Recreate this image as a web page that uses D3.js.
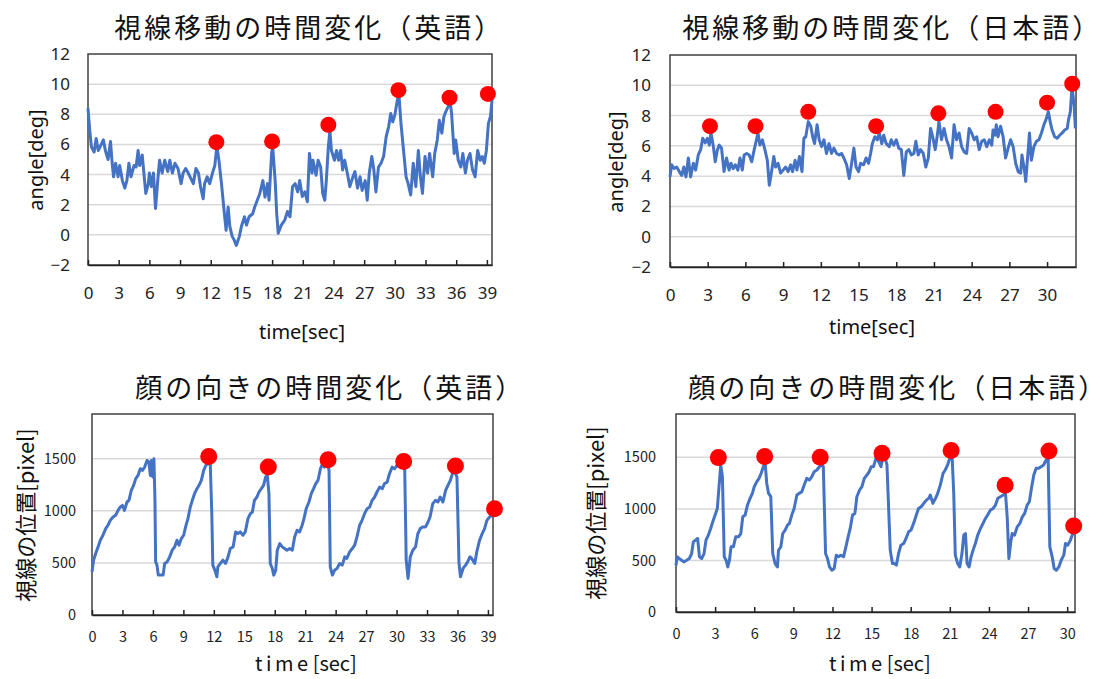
<!DOCTYPE html>
<html><head><meta charset="utf-8">
<script src="https://cdn.jsdelivr.net/npm/d3@7"></script>
<style>body{margin:0;background:#fff}</style>
</head><body>
<svg id="c" width="1097" height="679"></svg>
<script>
// ---------- DATA ----------
const titles = ["視線移動の時間変化（英語）","視線移動の時間変化（日本語）","顔の向きの時間変化（英語）","顔の向きの時間変化（日本語）"];
const angleTicks = [-2,0,2,4,6,8,10,12];
const pixelTicks = [0,500,1000,1500];
const timeTicks39 = [0,3,6,9,12,15,18,21,24,27,30,33,36,39];
const timeTicks30 = [0,3,6,9,12,15,18,21,24,27,30];

const enAngle = [[0,8.4],[0.16,7.0],[0.33,5.85],[0.6,5.5],[0.8,6.4],[1.0,5.6],[1.3,6.0],[1.5,6.3],[1.7,5.6],[1.96,5.0],[2.2,6.2],[2.35,4.85],[2.5,3.85],[2.7,4.75],[2.94,3.85],[3.1,4.6],[3.36,3.6],[3.6,3.1],[3.8,3.6],[4.0,4.75],[4.2,3.85],[4.5,4.6],[4.7,4.5],[4.9,5.6],[5.05,4.6],[5.3,5.3],[5.45,4.2],[5.65,2.75],[5.9,3.4],[6.0,4.1],[6.2,3.2],[6.4,4.1],[6.6,1.75],[6.85,3.85],[7.0,4.95],[7.25,4.1],[7.5,4.95],[7.8,4.2],[8.0,4.95],[8.25,4.1],[8.5,4.75],[8.8,4.4],[9.1,3.4],[9.3,4.1],[9.55,4.4],[9.8,4.1],[10.05,3.75],[10.3,3.4],[10.55,4.4],[10.8,4.1],[11.0,3.2],[11.26,2.4],[11.4,3.4],[11.65,3.85],[11.9,3.4],[12.17,4.1],[12.4,4.6],[12.6,5.9],[12.8,4.95],[13.05,3.4],[13.3,1.65],[13.5,0.3],[13.7,1.85],[13.87,0.55],[14.1,-0.1],[14.3,-0.35],[14.5,-0.7],[14.8,-0.1],[15.0,0.55],[15.3,1.2],[15.5,0.65],[15.75,1.2],[16.1,1.4],[16.3,1.85],[16.55,2.3],[16.8,2.75],[17.1,3.6],[17.3,2.5],[17.55,3.4],[17.7,2.3],[17.95,5.4],[18.05,5.9],[18.3,3.6],[18.45,1.4],[18.6,0.1],[18.9,0.65],[19.25,1.0],[19.5,1.55],[19.75,1.2],[20.0,3.2],[20.25,3.4],[20.5,2.85],[20.7,3.6],[20.95,2.55],[21.2,2.85],[21.45,2.2],[21.65,5.4],[21.9,4.1],[22.0,4.95],[22.3,3.95],[22.5,4.95],[22.75,4.5],[22.95,2.75],[23.15,2.3],[23.3,3.6],[23.5,5.85],[23.65,6.9],[23.8,5.6],[24.1,4.95],[24.3,5.6],[24.5,4.95],[24.7,5.6],[24.9,4.3],[25.1,4.95],[25.35,4.1],[25.6,3.2],[25.9,3.85],[26.1,4.2],[26.35,3.1],[26.6,3.85],[26.8,2.95],[27.1,3.6],[27.3,2.3],[27.5,4.1],[27.75,5.2],[27.95,4.3],[28.15,2.85],[28.4,4.5],[28.65,4.75],[28.9,5.2],[29.15,6.5],[29.4,7.2],[29.6,8.05],[29.8,7.5],[30.0,7.95],[30.25,8.95],[30.4,9.3],[30.6,7.4],[30.85,5.6],[31.1,3.85],[31.3,3.4],[31.55,2.65],[31.8,4.75],[32.05,3.2],[32.3,5.6],[32.5,3.85],[32.7,2.75],[32.95,5.2],[33.2,4.1],[33.4,5.4],[33.7,3.85],[33.9,5.4],[34.15,6.3],[34.35,7.6],[34.6,6.75],[34.8,7.85],[35.0,8.2],[35.2,8.5],[35.4,8.85],[35.55,8.05],[35.8,5.4],[35.95,6.3],[36.2,4.95],[36.45,4.5],[36.65,5.4],[36.9,4.1],[37.1,4.95],[37.35,5.4],[37.6,4.3],[37.85,3.85],[38.1,5.6],[38.35,4.95],[38.55,5.2],[38.75,4.75],[38.95,5.6],[39.15,7.4],[39.35,7.85],[39.5,8.95]];
const enAnglePeaks = [[12.55,6.15],[18.0,6.2],[23.5,7.3],[30.35,9.6],[35.35,9.1],[39.1,9.35]];

const jaAngle = [[0,3.95],[0.13,4.75],[0.32,4.5],[0.53,4.6],[0.74,4.3],[0.93,4.05],[1.1,4.6],[1.27,3.95],[1.46,5.2],[1.64,3.95],[1.86,4.85],[2.04,4.4],[2.25,5.4],[2.44,5.75],[2.6,6.5],[2.8,6.2],[2.97,6.5],[3.13,6.05],[3.26,6.85],[3.45,5.95],[3.6,4.95],[3.76,5.7],[3.92,6.05],[4.1,5.85],[4.3,4.3],[4.5,5.2],[4.7,4.4],[4.85,4.85],[5.03,4.5],[5.2,4.75],[5.4,4.4],[5.57,5.2],[5.75,4.4],[5.9,5.4],[6.1,5.5],[6.3,5.4],[6.5,4.95],[6.7,5.75],[6.85,6.3],[7.0,6.85],[7.15,6.05],[7.35,6.4],[7.55,5.75],[7.74,5.05],[7.9,3.4],[8.1,4.4],[8.26,5.3],[8.4,4.6],[8.6,4.85],[8.8,4.2],[9.0,4.4],[9.2,4.6],[9.4,4.3],[9.6,4.75],[9.75,4.3],[9.95,5.05],[10.1,4.4],[10.3,5.3],[10.5,4.3],[10.65,6.5],[10.8,6.6],[11.0,7.6],[11.2,7.3],[11.35,6.6],[11.5,6.15],[11.7,7.4],[11.87,6.4],[12.06,5.95],[12.25,6.4],[12.45,5.5],[12.65,6.15],[12.85,5.5],[13.04,5.85],[13.25,5.5],[13.46,5.4],[13.65,5.5],[13.83,5.2],[14.05,4.75],[14.26,3.85],[14.45,4.85],[14.63,5.85],[14.8,4.6],[15.0,4.3],[15.16,4.85],[15.4,4.75],[15.6,5.2],[15.8,4.85],[15.96,5.5],[16.1,6.15],[16.3,6.6],[16.5,6.4],[16.65,6.85],[16.85,6.15],[17.0,6.7],[17.2,6.15],[17.45,5.95],[17.6,6.4],[17.8,6.05],[18.0,6.4],[18.2,5.85],[18.4,5.75],[18.6,4.05],[18.8,5.6],[19.0,5.75],[19.2,5.4],[19.4,5.5],[19.56,6.3],[19.75,5.4],[19.93,5.75],[20.15,5.5],[20.35,4.6],[20.55,5.2],[20.73,7.15],[20.9,6.6],[21.1,5.75],[21.25,6.6],[21.4,7.6],[21.6,6.4],[21.8,7.15],[22.0,6.4],[22.2,5.95],[22.4,5.2],[22.6,7.4],[22.8,6.4],[23.0,6.85],[23.2,5.95],[23.4,5.6],[23.6,5.5],[23.8,7.15],[24.0,6.85],[24.2,6.4],[24.4,6.6],[24.6,5.75],[24.8,6.3],[25.0,6.4],[25.2,5.95],[25.4,6.4],[25.6,6.05],[25.7,7.05],[25.85,6.7],[25.96,7.4],[26.1,6.6],[26.3,7.3],[26.5,6.6],[26.7,5.2],[26.9,5.85],[27.1,6.4],[27.3,5.95],[27.5,4.85],[27.7,4.3],[27.9,4.2],[28.0,5.4],[28.2,4.4],[28.3,3.65],[28.5,5.75],[28.6,6.85],[28.75,5.05],[28.95,5.95],[29.15,6.3],[29.35,6.4],[29.55,6.85],[29.75,7.4],[29.9,7.7],[30.1,8.25],[30.27,7.5],[30.4,7.05],[30.6,6.6],[30.8,6.5],[31.0,6.7],[31.2,6.85],[31.4,7.05],[31.6,7.15],[31.7,7.7],[31.85,8.25],[31.98,9.9],[32.15,8.7],[32.25,7.15]];
const jaAnglePeaks = [[3.18,7.3],[6.8,7.3],[11.0,8.25],[16.4,7.3],[21.35,8.15],[25.9,8.25],[30.0,8.85],[32.0,10.1]];

const enFace = [[0,415],[0.16,527],[0.36,590],[0.6,654],[0.82,718],[1.08,766],[1.35,830],[1.58,862],[1.8,909],[2.07,941],[2.33,957],[2.56,1005],[2.8,1037],[3.0,1053],[3.2,1005],[3.45,1085],[3.64,1101],[3.87,1197],[4.1,1245],[4.3,1308],[4.53,1340],[4.76,1404],[4.96,1388],[5.19,1420],[5.42,1484],[5.6,1468],[5.75,1340],[5.85,1484],[6.0,1324],[6.1,1500],[6.2,1101],[6.27,510],[6.4,479],[6.53,383],[6.73,383],[7.0,383],[7.16,495],[7.4,510],[7.65,558],[7.9,622],[8.14,654],[8.37,718],[8.57,670],[8.8,734],[9.03,766],[9.22,846],[9.45,925],[9.68,1037],[9.88,1101],[10.1,1165],[10.34,1213],[10.54,1245],[10.77,1292],[11.0,1388],[11.2,1436],[11.4,1452],[11.65,1452],[11.8,973],[11.9,479],[12.1,431],[12.3,367],[12.4,463],[12.64,495],[12.9,527],[13.16,495],[13.4,558],[13.62,638],[13.9,654],[14.15,798],[14.38,782],[14.6,798],[14.87,766],[15.1,798],[15.36,925],[15.6,973],[15.8,989],[16.0,1101],[16.25,1133],[16.45,1181],[16.68,1213],[16.9,1245],[17.1,1324],[17.27,1340],[17.43,1165],[17.56,495],[17.76,447],[17.9,383],[18.1,431],[18.25,622],[18.5,686],[18.74,654],[18.97,638],[19.2,622],[19.47,638],[19.73,622],[19.96,750],[20.2,814],[20.45,798],[20.7,862],[20.88,925],[21.1,1021],[21.37,1085],[21.6,1165],[21.83,1213],[22.03,1260],[22.26,1292],[22.5,1404],[22.7,1452],[22.9,1420],[23.15,1468],[23.35,1388],[23.47,463],[23.68,383],[23.9,431],[24.13,447],[24.4,495],[24.65,479],[24.9,558],[25.1,543],[25.38,606],[25.64,638],[25.87,670],[26.1,750],[26.36,862],[26.6,909],[26.85,973],[27.1,1021],[27.35,1037],[27.6,1101],[27.84,1133],[28.07,1181],[28.33,1228],[28.6,1213],[28.8,1260],[29.07,1276],[29.3,1356],[29.57,1420],[29.8,1404],[30.04,1436],[30.24,1436],[30.47,1468],[30.8,1420],[30.95,527],[31.13,351],[31.35,558],[31.6,622],[31.87,654],[32.1,782],[32.33,830],[32.6,846],[32.86,846],[33.1,893],[33.3,941],[33.57,1069],[33.83,1101],[34.07,1085],[34.3,1133],[34.57,1085],[34.83,1197],[35.06,1245],[35.3,1292],[35.5,1356],[35.7,1388],[35.95,1324],[36.15,495],[36.3,367],[36.55,447],[36.8,479],[37.0,510],[37.23,558],[37.4,543],[37.7,495],[37.9,606],[38.18,718],[38.44,782],[38.67,830],[38.9,909],[39.16,941],[39.43,957]];
const enFacePeaks = [[11.5,1522],[17.37,1420],[23.25,1490],[30.7,1474],[35.8,1430],[39.65,1021]];

const jaFace = [[0,454],[0.1,535],[0.26,518],[0.43,502],[0.6,486],[0.82,502],[1.02,518],[1.2,567],[1.33,680],[1.5,697],[1.66,713],[1.8,535],[1.97,518],[2.15,567],[2.3,697],[2.48,745],[2.66,810],[2.82,875],[3.0,940],[3.17,1004],[3.3,1215],[3.43,1426],[3.56,1312],[3.7,535],[3.84,502],[3.97,437],[4.1,502],[4.22,632],[4.4,632],[4.58,729],[4.79,729],[4.97,761],[5.12,923],[5.3,940],[5.48,1037],[5.68,1102],[5.86,1150],[6.0,1215],[6.2,1264],[6.37,1296],[6.53,1345],[6.7,1409],[6.83,1458],[6.96,1247],[7.1,1150],[7.27,1118],[7.42,567],[7.6,470],[7.78,437],[7.86,599],[8.04,632],[8.19,761],[8.37,794],[8.55,842],[8.7,859],[8.88,940],[9.06,1004],[9.27,1134],[9.44,1150],[9.65,1166],[9.83,1231],[10.03,1296],[10.24,1280],[10.42,1312],[10.6,1361],[10.8,1377],[11.0,1409],[11.2,1426],[11.3,1409],[11.47,567],[11.62,518],[11.77,437],[11.95,405],[12.13,421],[12.29,551],[12.46,535],[12.64,551],[12.85,535],[13.03,632],[13.2,729],[13.36,810],[13.54,940],[13.72,956],[13.87,1118],[14.08,1183],[14.26,1215],[14.44,1296],[14.64,1328],[14.82,1361],[14.97,1409],[15.15,1409],[15.33,1490],[15.54,1458],[15.72,1409],[15.87,1507],[16.05,1490],[16.18,1426],[16.43,599],[16.6,470],[16.76,470],[16.9,454],[17.07,567],[17.25,648],[17.46,664],[17.64,713],[17.84,778],[18.02,794],[18.22,859],[18.43,940],[18.6,1004],[18.8,1021],[19.0,1053],[19.2,1085],[19.38,1102],[19.5,1134],[19.7,1053],[19.9,1102],[20.07,1150],[20.27,1231],[20.48,1345],[20.65,1377],[20.83,1426],[20.99,1490],[21.17,1523],[21.3,1150],[21.42,551],[21.6,470],[21.76,437],[21.93,567],[22.07,745],[22.2,761],[22.32,470],[22.48,437],[22.63,535],[22.78,599],[22.96,664],[23.14,745],[23.35,810],[23.55,859],[23.73,907],[23.9,940],[24.11,988],[24.32,1004],[24.5,1037],[24.68,1102],[24.88,1118],[25.1,1134],[25.27,1150],[25.4,923],[25.53,518],[25.66,664],[25.78,761],[25.96,745],[26.17,826],[26.37,859],[26.56,923],[26.74,956],[26.93,1037],[27.1,1069],[27.26,1199],[27.44,1328],[27.62,1393],[27.82,1393],[28.0,1409],[28.2,1426],[28.38,1474],[28.54,1490],[28.67,632],[28.85,535],[29.0,421],[29.17,405],[29.36,437],[29.54,502],[29.74,551],[29.87,664],[30.04,648],[30.25,697],[30.43,761]];
const jaFacePeaks = [[3.25,1497],[6.8,1507],[11.06,1500],[15.8,1539],[21.1,1565],[25.24,1228],[28.6,1562],[30.5,833]];

// ---------- LAYOUT ----------
const svg = d3.select("#c");
const CJK = "'Noto Sans CJK JP', sans-serif";
const LAT = "'Noto Sans', 'Open Sans', sans-serif";

const panels = [
  {title:titles[0], tx:301, ty:26, box:[88,492,54,265], xMax:39.5, xTicks:timeTicks39, yDom:[-2,12], yTicks:angleTicks,
   data:enAngle, peaks:enAnglePeaks, ylab:"angle[deg]", ylx:35, yly:160, ylSize:20, xlx:302, xly:331, tickFont:LAT, tickSize:17, xPad:22, yPad:18, labFont:LAT, cjkTime:false, r:8},
  {title:titles[1], tx:884, ty:26, box:[670,1076,55,267], xMax:32.3, xTicks:timeTicks30, yDom:[-2,12], yTicks:angleTicks,
   data:jaAngle, peaks:jaAnglePeaks, ylab:"angle[deg]", ylx:615, yly:162, ylSize:20, xlx:872, xly:326, tickFont:LAT, tickSize:17, xPad:22, yPad:19, labFont:LAT, cjkTime:false, r:8},
  {title:titles[2], tx:322, ty:386, box:[92,493,414,615], xMax:39.5, xTicks:timeTicks39, yDom:[0,1930], yTicks:pixelTicks,
   data:enFace, peaks:enFacePeaks, ylab:"視線の位置[pixel]", ylx:24, yly:515, ylSize:22, xlx:255, xly:671, tickFont:CJK, tickSize:14.5, xPad:17, yPad:16, labFont:CJK, cjkTime:true, r:8.5},
  {title:titles[3], tx:890, ty:386, box:[676,1075,414,612], xMax:30.6, xTicks:timeTicks30, yDom:[0,1920], yTicks:pixelTicks,
   data:jaFace, peaks:jaFacePeaks, ylab:"視線の位置[pixel]", ylx:594, yly:513, ylSize:22, xlx:829, xly:671, tickFont:CJK, tickSize:14.5, xPad:17, yPad:20, labFont:CJK, cjkTime:true, r:8.5}
];

panels.forEach(p => {
  const [x0,x1,y0,y1] = p.box;
  const x = d3.scaleLinear().domain([0,p.xMax]).range([x0,x1]);
  const y = d3.scaleLinear().domain(p.yDom).range([y1,y0]);
  const g = svg.append("g");

  // title
  const tt = g.append("text").attr("x",p.tx).attr("y",p.ty).attr("text-anchor","middle").attr("dominant-baseline","central")
    .style("font-family",CJK).style("font-size","27px").style("letter-spacing","3px").attr("fill","#111");
  tt.append("tspan").text(p.title.slice(0,-1));
  tt.append("tspan").style("font-feature-settings","'halt'").style("letter-spacing","0px").text(p.title.slice(-1));

  // gridlines
  g.append("g").selectAll("line").data(p.yTicks.filter(t=>t>p.yDom[0] && t<p.yDom[1])).join("line")
    .attr("x1",x0).attr("x2",x1).attr("y1",d=>y(d)).attr("y2",d=>y(d))
    .attr("stroke","#d9d9d9").attr("stroke-width",1.5);

  // frame
  g.append("rect").attr("x",x0).attr("y",y0).attr("width",x1-x0).attr("height",y1-y0)
    .attr("fill","none").attr("stroke","#404040").attr("stroke-width",1.5);

  // x axis
  const xa = g.append("g").attr("transform",`translate(0,${y1})`)
    .call(d3.axisBottom(x).tickValues(p.xTicks).tickSizeInner(-5).tickSizeOuter(0).tickPadding(p.xPad).tickFormat(d3.format("d")));
  xa.select(".domain").attr("stroke","#222").attr("stroke-width",1.5);
  xa.selectAll(".tick line").attr("stroke","#222").attr("stroke-width",1.5);
  xa.selectAll("text").style("font-family",p.tickFont).style("font-size",p.tickSize+"px").attr("fill","#222");

  // y axis
  const ya = g.append("g").attr("transform",`translate(${x0},0)`)
    .call(d3.axisLeft(y).tickValues(p.yTicks).tickSize(0).tickPadding(p.yPad).tickFormat(d3.format("d")));
  ya.select(".domain").remove();
  ya.selectAll("text").style("font-family",p.tickFont).style("font-size",p.tickSize+"px").attr("fill","#222");

  // line
  const line = d3.line().x(d=>x(d[0])).y(d=>y(d[1]));
  g.append("path").datum(p.data).attr("d",line).attr("fill","none")
    .attr("stroke","#4472C4").attr("stroke-width",3).attr("stroke-linejoin","round");

  // peaks
  g.append("g").selectAll("circle").data(p.peaks).join("circle")
    .attr("cx",d=>x(d[0])).attr("cy",d=>y(d[1])).attr("r",p.r).attr("fill","#FF0000");

  // y label
  g.append("text").attr("transform",`translate(${p.ylx},${p.yly}) rotate(-90)`).attr("text-anchor","middle")
    .attr("dominant-baseline","central").style("font-family",p.labFont).style("font-size",p.ylSize+"px").attr("fill","#111").text(p.ylab);

  // x label
  if (p.cjkTime) {
    const tm = g.append("text").attr("x",p.xlx).attr("y",p.xly)
      .style("font-family",CJK).style("font-size","20px").style("letter-spacing","3.5px").attr("fill","#111").text("time");
    const bb = tm.node().getBBox();
    g.append("text").attr("x",bb.x + bb.width + 1).attr("y",p.xly)
      .style("font-family",CJK).style("font-size","20px").attr("fill","#111").text("[sec]");
  } else {
    g.append("text").attr("x",p.xlx).attr("y",p.xly).attr("text-anchor","middle").attr("dominant-baseline","central")
      .style("font-family",p.labFont).style("font-size","20px").attr("fill","#111").text("time[sec]");
  }
});
</script>
</body></html>
